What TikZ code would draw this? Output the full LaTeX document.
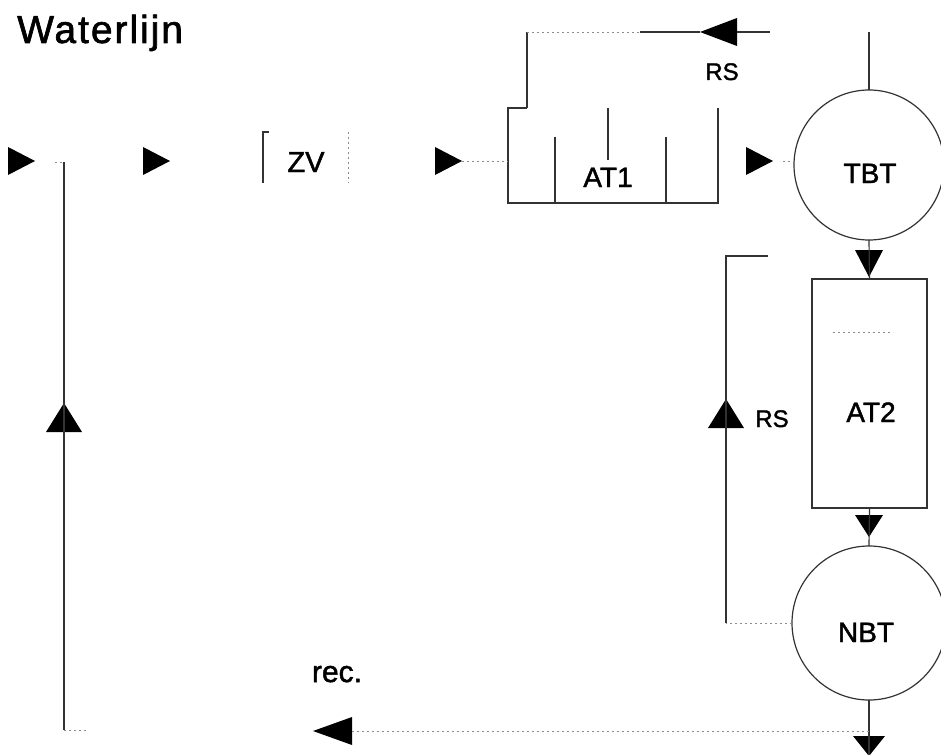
\documentclass[tikz,border=0pt]{standalone}
\usepackage{fontspec}
\setmainfont{Liberation Sans}[FakeBold=1.6]
\begin{document}
\begin{tikzpicture}[x=1pt,y=-1pt,
  wall/.style={draw=black!80, line width=1.2pt},
  faint/.style={draw=black!45, line width=0.9pt, dash pattern=on 2pt off 3pt},
  tank/.style={rectangle, inner sep=0pt, outer sep=0pt},
  basin/.style={circle, draw=black!80, line width=1.2pt, inner sep=0pt, outer sep=0pt, minimum size=#1},
  lbl/.style={font=\fontsize{28}{30}\selectfont, inner sep=0pt, anchor=base},
  small/.style={font=\fontsize{24}{26}\selectfont, inner sep=0pt, anchor=base},
  head/.style={fill=black}]
\useasboundingbox (0,0) rectangle (941,754);

% title
\node[inner sep=0pt, anchor=base west, font=\fontsize{39}{42}\selectfont\addfontfeature{LetterSpace=5}] (title) at (17,43) {Waterlijn};

% units
\node[tank, minimum width=85pt, minimum height=51pt] (ZV) at (305.5,157.5) {};
\node[lbl, font=\fontsize{29}{31}\selectfont] (ZVt) at (306,172) {ZV};
\node[tank, minimum width=210pt, minimum height=95pt] (AT1) at (613,155.5) {};
\node[lbl] (AT1t) at (608,187) {AT1};
\node[basin=150pt] (TBT) at (869,165) {};
\node[lbl] (TBTt) at (870,183) {TBT};
\node[tank, draw=black!80, line width=1.2pt, minimum width=115pt, minimum height=229pt] (AT2) at (869.5,393.5) {};
\node[lbl] (AT2t) at (871,422) {AT2};
\node[basin=154pt] (NBT) at (869,623) {};
\node[lbl] (NBTt) at (866,642) {NBT};
\node[small] (rs1) at (722,80) {RS};
\node[small] (rs2) at (772,427) {RS};
\node[lbl, font=\fontsize{30}{32}\selectfont] (rec) at (337,682) {rec.};

% screen ZV
\draw[wall] ([xshift=6pt]ZV.north west) -- (ZV.north west) -- (ZV.south west);
\draw[faint] (ZV.north east) -- (ZV.south east);

% aeration tank AT1 with baffles
\draw[wall] ([xshift=19pt]AT1.north west) -- (AT1.north west) -- (AT1.south west) -- (AT1.south east) -- (AT1.north east);
\draw[wall] (555,137) -- (555,203);
\draw[wall] (608,108) -- (608,160);
\draw[wall] (666,137) -- (666,203);

% aeration tank AT2 inner mark
\draw[faint] (833,332) -- (893,332);

% flow heads
\coordinate (f1) at (35,161);
\coordinate (f2) at (170,161);
\coordinate (f3) at (462,161);
\coordinate (f4) at (773,161);
\coordinate (u1) at (64,403);
\coordinate (u2) at (726,399);
\coordinate (l1) at (700,32);
\coordinate (l2) at (313,731);
\coordinate (d1) at (869,277);
\coordinate (d2) at (869,537);
\coordinate (d3) at (869,756);
\foreach \c in {f1,f2,f3,f4}
  \fill[head] (\c) -- ++(-27,-14) -- ++(0,28) -- cycle;
\foreach \c in {u1,u2}
  \fill[head] (\c) -- ++(-18,29) -- ++(36,0) -- cycle;
\fill[head] (l1) -- ++(37,-14) -- ++(0,28) -- cycle;
\fill[head] (l2) -- ++(39,-14) -- ++(0,28) -- cycle;
\fill[head] (d1) -- ++(-14,-27) -- ++(28,0) -- cycle;
\fill[head] (d2) -- ++(-14,-22) -- ++(28,0) -- cycle;
\fill[head] (d3) -- ++(-16,-20) -- ++(32,0) -- cycle;

% recirculation to the inlet
\coordinate (rj) at (64,162);
\coordinate (rb) at (64,730);
\draw[faint] (55,162) -- (rj);
\draw[wall] (rj) -- (rb);
\draw[faint] (rb) -- ++(24,0);

% inlet stubs
\draw[faint] (f3) -- (f3 -| AT1.west);
\draw[faint] ([xshift=10pt]f4) -- (f4 -| TBT.west);

% return sludge to AT1
\coordinate (ra) at (527,108);
\coordinate (rt) at (527,32);
\draw[wall] (ra) -- (rt);
\draw[faint] (rt) -- (640,32);
\draw[wall] (640,32) -- (l1);
\draw[wall] ([xshift=37pt]l1) -- (770,32);
\draw[wall] (869,32) -- (TBT.north);

% main train
\draw[wall] (TBT.south) -- (AT2.north);
\draw[wall] (AT2.south) -- (NBT.north);
\draw[wall] (NBT.south) -- ([yshift=-20pt]d3);

% recycle line along the bottom
\draw[faint] (869,731) -- ([xshift=39pt]l2);

% return sludge to AT2
\coordinate (rs) at (726,256);
\draw[faint] (NBT.west) -- (NBT.west -| rs);
\draw[wall] (NBT.west -| rs) -- (rs) -- (768,256);
\end{tikzpicture}
\end{document}
